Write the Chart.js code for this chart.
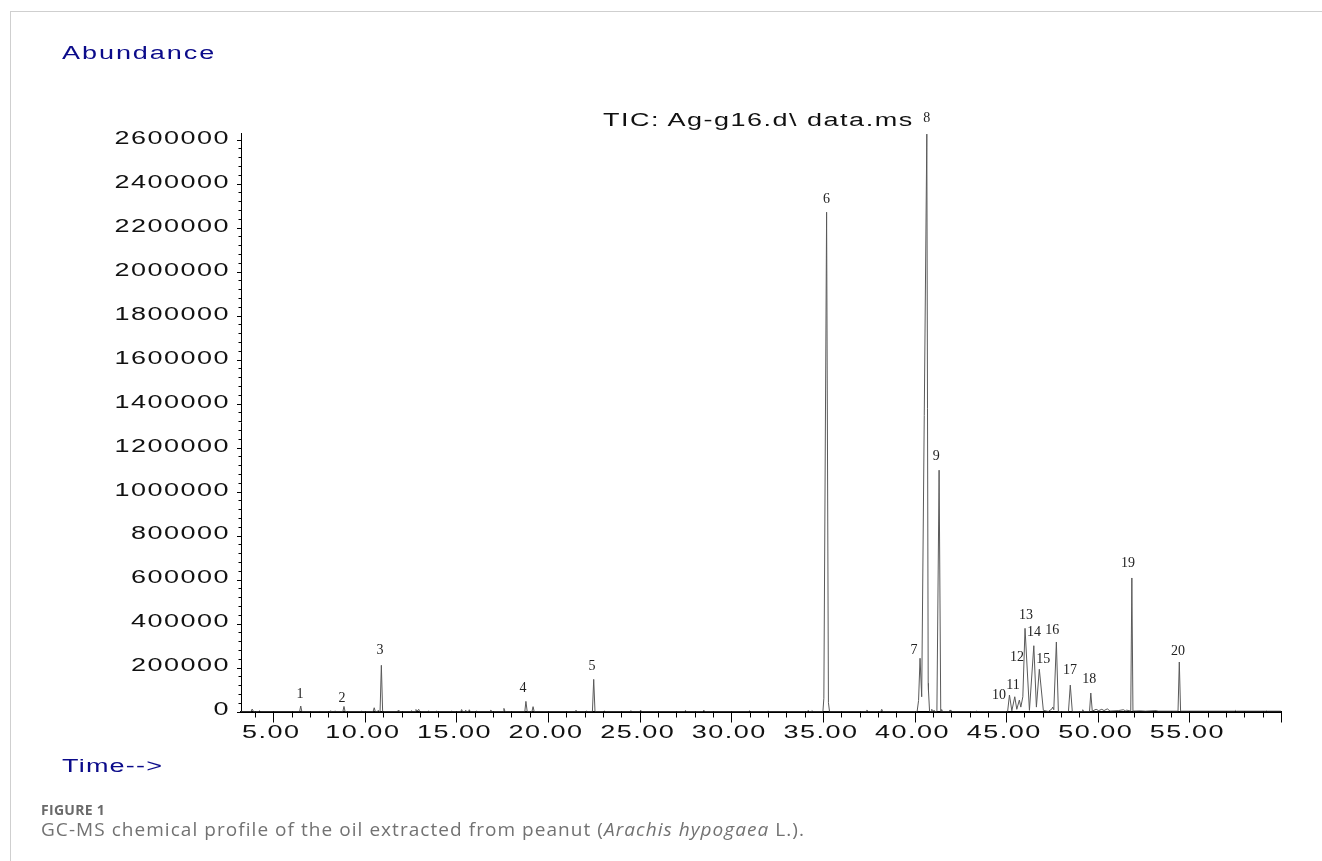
<!DOCTYPE html>
<html>
<head>
<meta charset="utf-8">
<script src="https://cdn.jsdelivr.net/npm/chart.js@4.4.1/dist/chart.umd.min.js"></script>
<style>
  body { margin: 0; background: #fff; width: 1322px; height: 861px; overflow: hidden; position: relative; font-family: "Liberation Sans", Arial, sans-serif; }
  .frame { position: absolute; left: 10px; top: 11px; width: 1400px; height: 900px; border-left: 1px solid #cfcfcf; border-top: 1px solid #cfcfcf; }
  .wide { position: absolute; white-space: nowrap; font-size: 18px; line-height: 20px; letter-spacing: 1.3px; transform: scaleX(1.5); transform-origin: 0 50%; }
  .blue { color: #0b0b8a; }
  #chart { position: absolute; left: 0; top: 0; }
  .figno { position: absolute; left: 41px; top: 800px; font-family: "Open Sans", sans-serif; font-weight: 700; font-size: 14px; letter-spacing: 0.3px; color: #6a6a6a; }
  .caption { position: absolute; left: 41px; top: 816px; font-family: "Open Sans", sans-serif; font-size: 19px; letter-spacing: 1.05px; color: #727272; white-space: nowrap; }
</style>
</head>
<body>
<div class="frame"></div>
<canvas id="chart" width="1322" height="861"></canvas>
<div class="wide blue" style="left:62px; top:43px;">Abundance</div>
<div class="wide" style="left:603px; top:110px; letter-spacing:1px; color:#111;">TIC: Ag-g16.d\ data.ms</div>
<div class="wide blue" style="left:62px; top:756px; letter-spacing:0.8px;">Time--&gt;</div>
<div class="figno">FIGURE 1</div>
<div class="caption">GC-MS chemical profile of the oil extracted from peanut (<i>Arachis hypogaea</i> L.).</div>

<script>
// retention time (min) and abundance
const retentionTimes = [
  3.24, 3.78, 3.85, 3.92, 4.2, 4.24, 4.29, 6.44, 6.50, 6.56, 7.52, 7.55, 7.58,
  8.07, 8.10, 8.14, 8.34, 8.37, 8.41, 8.80, 8.86, 8.92, 9.79, 9.82, 9.85,
  10.45, 10.51, 10.57, 10.70, 10.73, 10.78, 10.83, 10.90, 10.97, 11.79, 11.82, 11.86,
  12.52, 12.55, 12.59, 12.75, 12.79, 12.86, 12.94, 12.99, 13.43, 13.46, 13.50,
  13.89, 13.92, 13.96, 14.71, 14.74, 14.78, 15.24, 15.28, 15.33, 15.47, 15.50, 15.54,
  15.66, 15.70, 15.75, 16.07, 16.10, 16.14, 16.83, 16.87, 16.92, 17.54, 17.59, 17.65,
  18.73, 18.79, 18.86, 19.12, 19.18, 19.24, 21.49, 21.52, 21.56, 22.07, 22.10, 22.14,
  22.42, 22.49, 22.56, 23.04, 23.07, 23.11, 24.49, 24.52, 24.56, 25.01, 25.05, 25.10,
  27.46, 27.50, 27.54, 28.45, 28.50, 28.55, 30.96, 31.00, 31.04, 31.97, 32.00, 32.04,
  34.15, 34.20, 34.25, 34.35, 34.40, 34.45, 35.00, 35.05, 35.20, 35.30, 35.36,
  37.36, 37.40, 37.45, 38.16, 38.21, 38.26,
  40.14, 40.22, 40.30, 40.39, 40.67, 40.745, 40.76, 40.82, 40.91, 40.94, 40.98,
  41.03, 41.06, 41.10, 41.22, 41.34, 41.43, 41.46, 41.48, 41.52, 41.90, 41.94, 41.98,
  43.36, 43.39, 43.43, 45.08, 45.18, 45.31, 45.47, 45.58, 45.72, 45.80, 45.91, 46.03,
  46.27, 46.51, 46.65, 46.81, 47.03, 47.30, 47.50, 47.54, 47.60, 47.74, 47.85,
  48.40, 48.50, 48.61, 49.14, 49.18, 49.23, 49.55, 49.62, 49.70, 49.91, 50.05, 50.22,
  50.34, 50.52, 50.67, 51.12, 51.40, 51.50, 51.58, 51.80, 51.86, 51.92, 52.31, 52.60,
  53.18, 53.30, 54.38, 54.45, 54.52, 57.46, 57.51, 57.56, 59.15, 59.20, 59.25, 60.00
];
const abundances = [
  0, 0, 11000, 0, 0, 3000, 0, 0, 25000, 0, 0, 2000, 0,
  0, 3000, 0, 0, 3000, 0, 0, 23000, 0, 0, 2000, 0,
  0, 17000, 0, 0, 5000, 0, 0, 210000, 0, 0, 5000, 0,
  0, 4000, 0, 0, 9000, 2000, 10000, 0, 0, 2500, 0,
  0, 2500, 0, 0, 2500, 0, 0, 9000, 0, 0, 6000, 0,
  0, 8000, 0, 0, 2500, 0, 0, 7000, 0, 0, 14000, 0,
  0, 46000, 0, 0, 22000, 0, 0, 6000, 0, 0, 2500, 0,
  0, 146000, 0, 0, 2500, 0, 0, 4000, 0, 0, 6000, 0,
  0, 5000, 0, 0, 6000, 0, 0, 3000, 0, 0, 2500, 0,
  0, 5000, 0, 0, 4000, 0, 0, 60000, 2270000, 40000, 0,
  0, 7000, 0, 0, 10000, 0,
  0, 50000, 242000, 67000, 2625000, 128000, 95000, 0, 0, 10000, 0,
  0, 6000, 0, 0, 1097000, 0, 0, 9000, 0, 0, 7000, 0,
  0, 2500, 0, 0, 75000, 3000, 67000, 10000, 52000, 20000, 67000, 378000,
  5000, 299000, 20000, 192000, 5000, 0, 12000, 20000, 8000, 316000, 0,
  0, 120000, 0, 0, 8000, 0, 0, 84000, 2000, 10000, 4000, 10000,
  4000, 12000, 2000, 4000, 8000, 3000, 6000, 2000, 607000, 2000, 3000, 1500,
  4000, 1500, 1500, 225000, 1500, 1500, 5000, 1500, 1500, 3000, 1500, 1500
];

// numbered peak annotations (placed in data units)
const peakNumbers = ['1','2','3','4','5','6','7','8','9','10','11','12','13','14','15','16','17','18','19','20'];
const peakLabelTimes = [6.46, 8.75, 10.82, 18.63, 22.40, 35.20, 39.97, 40.67, 41.19, 44.61,
                        45.37, 45.59, 46.08, 46.52, 47.02, 47.51, 48.49, 49.53, 51.65, 54.38];
const peakLabelLevels = [79500, 62000, 280000, 105000, 204000, 2329000, 280000, 2696000, 1158000, 72000,
                         120000, 247000, 437000, 358000, 238000, 370000, 186000, 147000, 674000, 272000];

const xLabelTicks = [5, 10, 15, 20, 25, 30, 35, 40, 45, 50, 55];
const yLabelTicks = [0, 200000, 400000, 600000, 800000, 1000000, 1200000, 1400000,
                     1600000, 1800000, 2000000, 2200000, 2400000, 2600000];

function wideText(ctx, str, px, py, align) {
  ctx.save();
  ctx.translate(px, py);
  ctx.scale(1.5, 1);
  ctx.textAlign = align;
  ctx.textBaseline = 'middle';
  ctx.fillText(str, 0, 0);
  ctx.restore();
}

const axisDecor = {
  id: 'axisDecor',
  afterDraw(chart) {
    const { ctx, scales: { x, y } } = chart;
    const axisY = y.getPixelForValue(0);
    const axisX = x.getPixelForValue(x.min);
    ctx.save();
    ctx.strokeStyle = '#000';
    ctx.fillStyle = '#111';
    ctx.lineWidth = 1;

    // x ticks: every minute, longer on 5s
    x.ticks.forEach(tk => {
      const px = Math.round(x.getPixelForValue(tk.value)) + 0.5;
      const len = tk.value % 5 === 0 ? 11 : 6;
      ctx.beginPath();
      ctx.moveTo(px, axisY);
      ctx.lineTo(px, axisY + len);
      ctx.stroke();
    });
    // y ticks: every 40000, longer on 200000s
    y.ticks.forEach(tk => {
      const py = Math.round(y.getPixelForValue(tk.value)) + 0.5;
      const len = tk.value % 200000 === 0 ? 4 : 2.5;
      ctx.beginPath();
      ctx.moveTo(axisX, py);
      ctx.lineTo(axisX - len, py);
      ctx.stroke();
    });

    ctx.font = '18px "Liberation Sans", Arial, sans-serif';
    ctx.letterSpacing = '1px';
    xLabelTicks.forEach(v => {
      wideText(ctx, v.toFixed(2), x.getPixelForValue(v) - 2, axisY + 22, 'center');
    });
    yLabelTicks.forEach(v => {
      wideText(ctx, String(v), axisX - 11, y.getPixelForValue(v) - 1, 'right');
    });

    ctx.letterSpacing = '0px';
    ctx.font = '14px "Liberation Serif", "Times New Roman", serif';
    ctx.fillStyle = '#222';
    ctx.textAlign = 'center';
    ctx.textBaseline = 'middle';
    peakNumbers.forEach((n, i) => {
      ctx.fillText(n, x.getPixelForValue(peakLabelTimes[i]), y.getPixelForValue(peakLabelLevels[i]));
    });
    ctx.restore();
  }
};

new Chart(document.getElementById('chart'), {
  type: 'line',
  data: {
    datasets: [{
      data: retentionTimes.map((t, i) => ({ x: t, y: abundances[i] })),
      borderColor: '#5a5a5a',
      borderWidth: 1,
      pointRadius: 0,
      tension: 0,
      fill: false,
    }]
  },
  options: {
    responsive: false,
    animation: false,
    devicePixelRatio: 1,
    layout: { padding: { left: 0, top: 133, right: 41, bottom: 0 } },
    plugins: { legend: { display: false }, tooltip: { enabled: false } },
    scales: {
      x: {
        type: 'linear',
        min: 3.24,
        max: 60,
        grid: { display: false },
        border: { display: true, color: '#000', width: 2 },
        ticks: { display: false },
        afterBuildTicks: s => { s.ticks = []; for (let v = 4; v <= 60; v++) s.ticks.push({ value: v }); },
        afterFit: s => { s.height = 149.5; }
      },
      y: {
        min: 0,
        max: 2630000,
        grid: { display: false },
        border: { display: true, color: '#000', width: 1 },
        ticks: { display: false },
        afterBuildTicks: s => { s.ticks = []; for (let i = 0; i <= 65; i++) s.ticks.push({ value: i * 40000 }); },
        afterFit: s => { s.width = 241; }
      }
    }
  },
  plugins: [axisDecor]
});
</script>
</body>
</html>
